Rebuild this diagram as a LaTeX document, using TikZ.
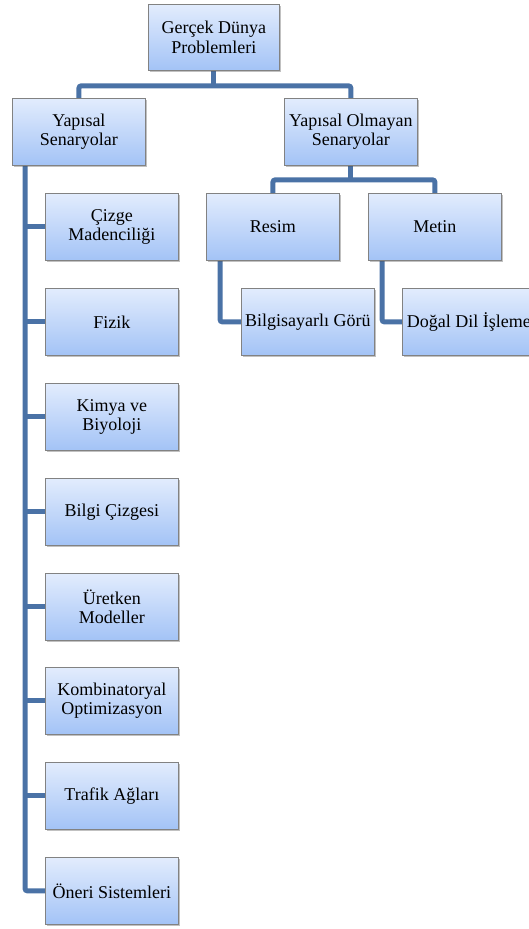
\documentclass[tikz,border=0pt]{standalone}
\usepackage{fontspec}
\setmainfont{Liberation Serif}
\usetikzlibrary{shadows,backgrounds,calc}
\definecolor{conn}{RGB}{74,114,166}
\definecolor{boxtop}{RGB}{226,236,253}
\definecolor{boxbot}{RGB}{163,195,246}
\definecolor{boxline}{RGB}{130,130,130}
\tikzset{
  cbox/.style={draw=boxline, line width=0.8pt, top color=boxtop, bottom color=boxbot,
    minimum width=133pt, minimum height=67pt, inner sep=0pt, align=center, anchor=north west,
    font=\rmfamily\fontsize{18}{19.5}\selectfont,
    drop shadow={shadow xshift=1.5pt, shadow yshift=-2pt, opacity=0.35, fill=black!70}},
  link/.style={draw=conn, line width=5pt, rounded corners=2.5pt}
}
\begin{document}
\begin{tikzpicture}[x=1pt,y=1pt]
\useasboundingbox (0,0) rectangle (529,-929);
\node[cbox, minimum width=131pt, minimum height=66pt] (top) at (148,-4) {Gerçek Dünya\\Problemleri};
\node[cbox] (ys) at (12,-98) {Yapısal\\Senaryolar};
\node[cbox] (yo) at (284,-98) {Yapısal Olmayan\\Senaryolar};
\node[cbox] (resim) at (206,-193) {Resim};
\node[cbox] (metin) at (368,-193) {Metin};
\node[cbox] (bg) at (241,-288) {Bilgisayarlı Görü};
\node[cbox] (dd) at (402,-288) {Doğal Dil İşleme};
\node[cbox] (b1) at (45,-193) {Çizge\\Madenciliği};
\node[cbox] (b2) at (45,-288) {Fizik};
\node[cbox] (b3) at (45,-383) {Kimya ve\\Biyoloji};
\node[cbox] (b4) at (45,-478) {Bilgi Çizgesi};
\node[cbox] (b5) at (45,-573) {Üretken\\Modeller};
\node[cbox] (b6) at (45,-667) {Kombinatoryal\\Optimizasyon};
\node[cbox] (b7) at (45,-762) {Trafik Ağları};
\node[cbox] (b8) at (45,-857) {Öneri Sistemleri};
\begin{scope}[on background layer]
\coordinate (j1) at ($(top.south)+(0,-15)$);
\draw[link] (top.south) -- (j1);
\draw[link] (ys.north) |- (j1) -| (yo.north);
\coordinate (j2) at ($(yo.south)+(0,-14)$);
\draw[link] (yo.south) -- (j2);
\draw[link] (resim.north) |- (j2) -| (metin.north);
\draw[link] ($(resim.south west)+(14,0)$) |- (bg.west);
\draw[link] ($(metin.south west)+(14,0)$) |- (dd.west);
\coordinate (spine) at ($(ys.south west)+(13,0)$);
\draw[link] (spine) |- (b8.west);
\foreach \b in {b1,b2,b3,b4,b5,b6,b7}{
  \draw[link] (spine |- \b.west) -- (\b.west);
}
\end{scope}
\end{tikzpicture}
\end{document}
